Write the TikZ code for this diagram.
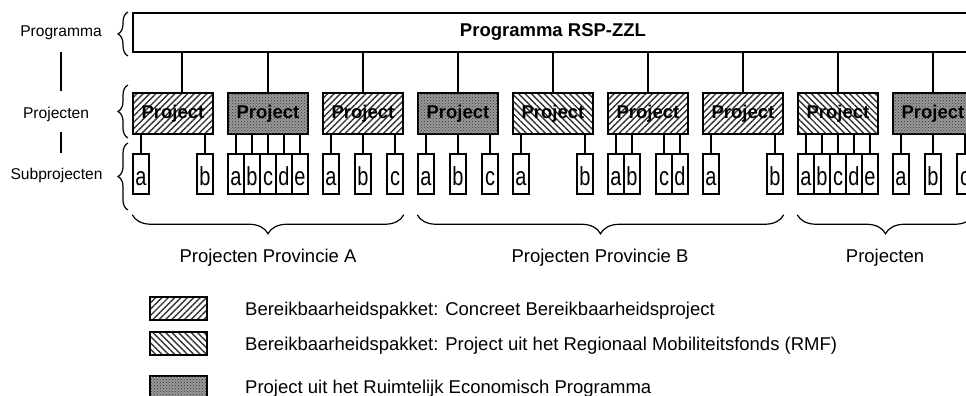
\documentclass[tikz,border=0pt]{standalone}
\usepackage{fontspec}
\usepackage{graphicx}
\setmainfont{Liberation Sans}
\usetikzlibrary{patterns,patterns.meta,decorations.pathreplacing}

\newcommand{\sublbl}[1]{\scalebox{1}[1.3]{#1}}

\begin{document}
\begin{tikzpicture}[x=1pt,y=-1pt,
    box/.style={draw,line width=1.5pt,inner sep=0pt},
    proj/.style={box,minimum width=80pt,minimum height=41pt,
      font=\fontsize{18.5}{20}\selectfont\bfseries},
    concreet/.style={pattern={Lines[angle=45,distance=4.5pt,line width=1.4pt]},pattern color=black!80},
    rmf/.style={pattern={Lines[angle=-45,distance=4.5pt,line width=1.4pt]},pattern color=black!80},
    rep/.style={fill=black!40,postaction={pattern=crosshatch dots,pattern color=black!80}},
    sub/.style={box,fill=white,minimum width=16pt,minimum height=40pt,
      text height=22pt,text depth=0pt,font=\fontsize{20}{22}\selectfont},
    side/.style={inner sep=0pt,anchor=base,font=\fontsize{15.6}{18}\selectfont},
    group/.style={inner sep=0pt,anchor=base,font=\fontsize{18.5}{20}\selectfont},
    legend/.style={inner sep=0pt,anchor=base west,font=\fontsize{18.5}{20}\selectfont},
    swatch/.style={box,minimum width=57pt,minimum height=23pt},
    brace/.style={decorate,decoration={brace,amplitude=#1},line width=1.2pt},
    brace/.default=10pt]
  \clip (0,0) rectangle (966,396);

  % programma
  \draw (553,32.5) node[box,minimum width=840pt,minimum height=39pt,
    font=\fontsize{18.5}{20}\selectfont\bfseries] (prog){Programma RSP-ZZL};

  % projecten
  \draw
    (173,113.5) node[proj,concreet] (p1){Project}
    (268,113.5) node[proj,rep] (p2){Project}
    (363,113.5) node[proj,concreet] (p3){Project}
    (458,113.5) node[proj,rep] (p4){Project}
    (553,113.5) node[proj,rmf] (p5){Project}
    (648,113.5) node[proj,concreet] (p6){Project}
    (743,113.5) node[proj,concreet] (p7){Project}
    (838,113.5) node[proj,rmf] (p8){Project}
    (933,113.5) node[proj,rep] (p9){Project};

  % subprojecten
  \draw
    (141,174) node[sub] (p1a){\sublbl{a}}
    (205,174) node[sub] (p1b){\sublbl{b}}
    (236,174) node[sub] (p2a){\sublbl{a}}
    (252,174) node[sub] (p2b){\sublbl{b}}
    (268,174) node[sub] (p2c){\sublbl{c}}
    (284,174) node[sub] (p2d){\sublbl{d}}
    (300,174) node[sub] (p2e){\sublbl{e}}
    (331,174) node[sub] (p3a){\sublbl{a}}
    (363,174) node[sub] (p3b){\sublbl{b}}
    (395,174) node[sub] (p3c){\sublbl{c}}
    (426,174) node[sub] (p4a){\sublbl{a}}
    (458,174) node[sub] (p4b){\sublbl{b}}
    (490,174) node[sub] (p4c){\sublbl{c}}
    (521,174) node[sub] (p5a){\sublbl{a}}
    (585,174) node[sub] (p5b){\sublbl{b}}
    (616,174) node[sub] (p6a){\sublbl{a}}
    (632,174) node[sub] (p6b){\sublbl{b}}
    (664,174) node[sub] (p6c){\sublbl{c}}
    (680,174) node[sub] (p6d){\sublbl{d}}
    (711,174) node[sub] (p7a){\sublbl{a}}
    (775,174) node[sub] (p7b){\sublbl{b}}
    (806,174) node[sub] (p8a){\sublbl{a}}
    (822,174) node[sub] (p8b){\sublbl{b}}
    (838,174) node[sub] (p8c){\sublbl{c}}
    (854,174) node[sub] (p8d){\sublbl{d}}
    (870,174) node[sub] (p8e){\sublbl{e}}
    (901,174) node[sub] (p9a){\sublbl{a}}
    (933,174) node[sub] (p9b){\sublbl{b}}
    (965,174) node[sub] (p9c){\sublbl{c}};

  \begin{scope}[line width=1.5pt]
    \draw ([xshift=9pt]p1.north) to ([xshift=9pt]p1.north |- prog.south);
    \draw (p2.north) to (p2.north |- prog.south);
    \draw (p3.north) to (p3.north |- prog.south);
    \draw (p4.north) to (p4.north |- prog.south);
    \draw (p5.north) to (p5.north |- prog.south);
    \draw (p6.north) to (p6.north |- prog.south);
    \draw (p7.north) to (p7.north |- prog.south);
    \draw (p8.north) to (p8.north |- prog.south);
    \draw (p9.north) to (p9.north |- prog.south);
  \end{scope}
  \begin{scope}[line width=1.5pt]
    \draw (p1a.north) to (p1a.north |- p1.south);
    \draw (p1b.north) to (p1b.north |- p1.south);
    \draw (p2a.north) to (p2a.north |- p2.south);
    \draw (p2b.north) to (p2b.north |- p2.south);
    \draw (p2c.north) to (p2c.north |- p2.south);
    \draw (p2d.north) to (p2d.north |- p2.south);
    \draw (p2e.north) to (p2e.north |- p2.south);
    \draw (p3a.north) to (p3a.north |- p3.south);
    \draw (p3b.north) to (p3b.north |- p3.south);
    \draw (p3c.north) to (p3c.north |- p3.south);
    \draw (p4a.north) to (p4a.north |- p4.south);
    \draw (p4b.north) to (p4b.north |- p4.south);
    \draw (p4c.north) to (p4c.north |- p4.south);
    \draw (p5a.north) to (p5a.north |- p5.south);
    \draw (p5b.north) to (p5b.north |- p5.south);
    \draw (p6a.north) to (p6a.north |- p6.south);
    \draw (p6b.north) to (p6b.north |- p6.south);
    \draw (p6c.north) to (p6c.north |- p6.south);
    \draw (p6d.north) to (p6d.north |- p6.south);
    \draw (p7a.north) to (p7a.north |- p7.south);
    \draw (p7b.north) to (p7b.north |- p7.south);
    \draw (p8a.north) to (p8a.north |- p8.south);
    \draw (p8b.north) to (p8b.north |- p8.south);
    \draw (p8c.north) to (p8c.north |- p8.south);
    \draw (p8d.north) to (p8d.north |- p8.south);
    \draw (p8e.north) to (p8e.north |- p8.south);
    \draw (p9a.north) to (p9a.north |- p9.south);
    \draw (p9b.north) to (p9b.north |- p9.south);
    \draw (p9c.north) to (p9c.north |- p9.south);
  \end{scope}

  % niveaus links
  \draw
    (61,37) node[side] (lprog){Programma}
    (56,118) node[side] (lproj){Projecten}
    (56.5,179) node[side] (lsub){Subprojecten};
  \begin{scope}[line width=2pt]
    \draw ([yshift=-11.7pt]lprog.south) to ([yshift=15.6pt]lprog.south |- lproj.north);
    \draw ([yshift=-10.7pt]lprog.south |- lproj.south) to ([yshift=14.6pt]lprog.south |- lsub.north);
  \end{scope}
  \draw[brace] (128,56) -- (128,12);
  \draw[brace] (128,138) -- (128,85);
  \draw[brace] (128,210) -- (128,143);

  % provincies
  \draw[brace=19pt] ([yshift=-20pt]p3c.south east) -- ([yshift=-20pt]p1a.south west);
  \draw[brace=19pt] ([yshift=-20pt]p7b.south east) -- ([yshift=-20pt]p4a.south west);
  \draw[brace=19pt] ([yshift=-20pt]p9c.south east) -- ([yshift=-20pt]p8a.south west);
  \draw
    (268,262) node[group] (provA){Projecten Provincie A}
    (600,262) node[group] (provB){Projecten Provincie B}
    (885,262) node[group] (provC){Projecten};

  % legenda
  \draw
    (178.5,308.5) node[swatch,concreet] (lg1){}
    (178.5,343.5) node[swatch,rmf] (lg2){}
    (178.5,388) node[swatch,rep,minimum height=24pt] (lg3){}
    (245,315) node[legend] (lt1){Bereikbaarheidspakket: Concreet Bereikbaarheidsproject}
    (245,350) node[legend] (lt2){Bereikbaarheidspakket: Project uit het Regionaal Mobiliteitsfonds (RMF)}
    (245,393) node[legend] (lt3){Project uit het Ruimtelijk Economisch Programma};
\end{tikzpicture}
\end{document}
